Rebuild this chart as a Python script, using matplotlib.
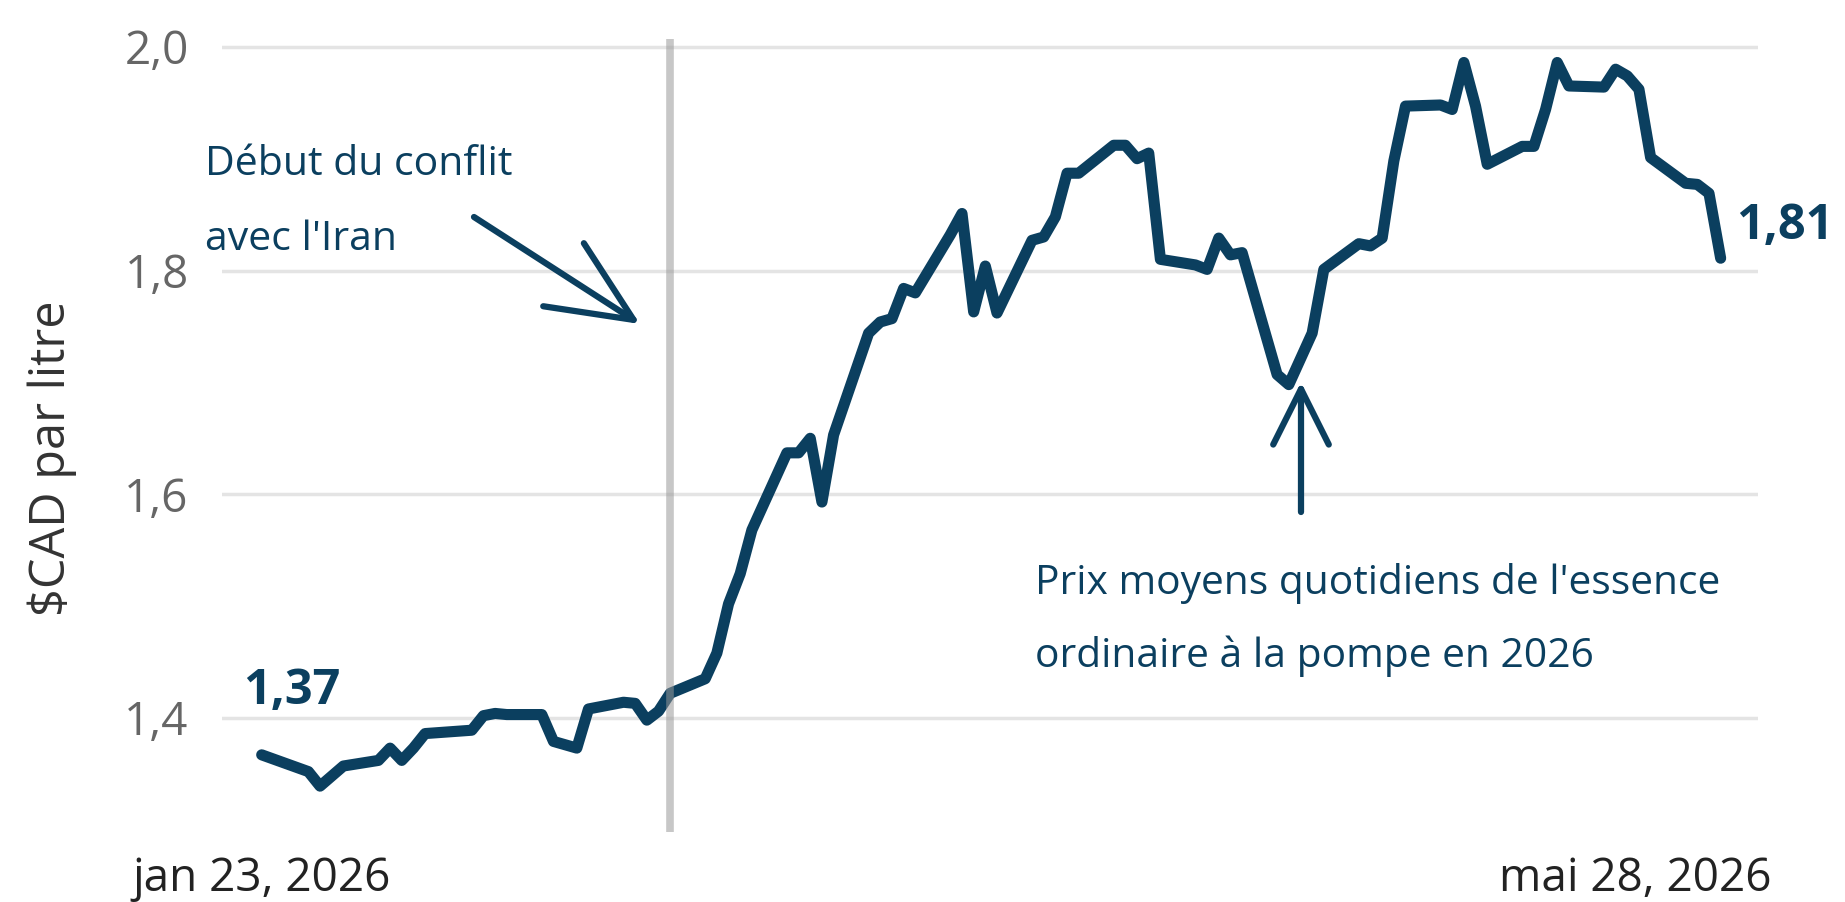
import pandas as pd
import matplotlib.pyplot as plt
from matplotlib.transforms import ScaledTranslation

# daily average regular gas price at the pump, $CAD per litre (2026)
dates = [
    "2026-01-23", "2026-01-27", "2026-01-28", "2026-01-30", "2026-02-02",
    "2026-02-03", "2026-02-04", "2026-02-05", "2026-02-06", "2026-02-10",
    "2026-02-11", "2026-02-12", "2026-02-13", "2026-02-16", "2026-02-17",
    "2026-02-19", "2026-02-20", "2026-02-23", "2026-02-24", "2026-02-25",
    "2026-02-26", "2026-02-27", "2026-03-02", "2026-03-03", "2026-03-04",
    "2026-03-05", "2026-03-06", "2026-03-09", "2026-03-10", "2026-03-11",
    "2026-03-12", "2026-03-13", "2026-03-16", "2026-03-17", "2026-03-18",
    "2026-03-19", "2026-03-20", "2026-03-23", "2026-03-24", "2026-03-25",
    "2026-03-26", "2026-03-27", "2026-03-30", "2026-03-31", "2026-04-01",
    "2026-04-02", "2026-04-03", "2026-04-06", "2026-04-07", "2026-04-08",
    "2026-04-09", "2026-04-10", "2026-04-13", "2026-04-14", "2026-04-15",
    "2026-04-16", "2026-04-17", "2026-04-20", "2026-04-21", "2026-04-23",
    "2026-04-24", "2026-04-27", "2026-04-28", "2026-04-29", "2026-04-30",
    "2026-05-01", "2026-05-04", "2026-05-05", "2026-05-06", "2026-05-07",
    "2026-05-08", "2026-05-11", "2026-05-12", "2026-05-13", "2026-05-14",
    "2026-05-15", "2026-05-18", "2026-05-19", "2026-05-20", "2026-05-21",
    "2026-05-22", "2026-05-25", "2026-05-26", "2026-05-27", "2026-05-28",
]
prices = [
    1.367, 1.352, 1.339, 1.357, 1.362,
    1.373, 1.362, 1.373, 1.386, 1.389,
    1.402, 1.404, 1.403, 1.403, 1.379,
    1.373, 1.408, 1.414, 1.413, 1.398,
    1.406, 1.422, 1.435, 1.458, 1.502,
    1.529, 1.568, 1.637, 1.637, 1.650,
    1.593, 1.653, 1.744, 1.754, 1.757,
    1.784, 1.780, 1.832, 1.851, 1.763,
    1.804, 1.762, 1.827, 1.830, 1.848,
    1.887, 1.887, 1.912, 1.912, 1.900,
    1.905, 1.810, 1.805, 1.801, 1.829,
    1.814, 1.816, 1.707, 1.698, 1.744,
    1.801, 1.824, 1.822, 1.829, 1.898,
    1.947, 1.948, 1.944, 1.986, 1.947,
    1.895, 1.911, 1.911, 1.944, 1.986,
    1.965, 1.964, 1.980, 1.974, 1.962,
    1.901, 1.878, 1.877, 1.869, 1.811,
]
conflict_date = "2026-02-27"
y_ticks = [1.4, 1.6, 1.8, 2.0]
y_tick_labels = ["1,4", "1,6", "1,8", "2,0"]
x_tick_labels = ["jan 23, 2026", "mai 28, 2026"]

W, H = 1845, 902
NAVY = "#0b3f5f"
plt.rcParams["font.family"] = ["Open Sans", "DejaVu Sans"]


def px(x, y):
    # reference pixel (top-left origin) -> figure fraction
    return x / W, 1 - y / H


df = pd.DataFrame({"date": pd.to_datetime(dates), "price": prices})
start, end = df["date"].iloc[0], df["date"].iloc[-1]

fig = plt.figure(figsize=(W / 100, H / 100), dpi=100)
ax = fig.add_axes([222 / W, 1 - 832 / H, (1758 - 222) / W, (832 - 39) / H])

ax.plot(df["date"], df["price"], color=NAVY, lw=8,
        solid_capstyle="round", solid_joinstyle="round", zorder=3)
ax.axvline(pd.Timestamp(conflict_date), color="#999999", alpha=0.55, lw=5.5, zorder=4)

ax.set_xlim(start - pd.Timedelta(days=3.4), start + pd.Timedelta(days=128.2))
ax.set_ylim(1.298, 2.007)
ax.set_yticks(y_ticks)
ax.set_yticklabels(y_tick_labels)
ax.grid(axis="y", color="#e4e4e4", lw=2.5)
ax.set_axisbelow(True)
for s in ax.spines.values():
    s.set_visible(False)
ax.tick_params(length=0)
ax.tick_params(axis="y", labelsize=33, labelcolor="#666666", pad=24)
ax.set_xticks([start, end])
ax.set_xticklabels(x_tick_labels)
ax.tick_params(axis="x", labelsize=33, labelcolor="#222222", pad=17)
last = ax.get_xticklabels()[-1]
last.set_transform(last.get_transform() + ScaledTranslation(-0.85, 0, fig.dpi_scale_trans))

fig.text(*px(52, 458), "\\$CAD par litre", rotation=90, ha="center", va="center",
         fontsize=35, color="#333333")

# end labels
fig.text(*px(243, 704), "1,37", fontsize=35, fontweight="bold", color=NAVY, va="baseline")
fig.text(*px(1736, 239), "1,81", fontsize=35, fontweight="bold", color=NAVY, va="baseline")

# annotations
fig.text(*px(205, 175), "Début du conflit", fontsize=29.5, color=NAVY, va="baseline")
fig.text(*px(205, 250), "avec l'Iran", fontsize=29.5, color=NAVY, va="baseline")
fig.text(*px(1035, 594), "Prix moyens quotidiens de l'essence", fontsize=29.3, color=NAVY, va="baseline")
fig.text(*px(1035, 667), "ordinaire à la pompe en 2026", fontsize=29.3, color=NAVY, va="baseline")

ax.annotate("", xy=(640, H - 324), xytext=(474, H - 217), xycoords="figure pixels",
            arrowprops=dict(arrowstyle="->,head_length=60,head_width=27", mutation_scale=1,
                            color=NAVY, lw=4.5, shrinkA=0, shrinkB=0))
ax.annotate("", xy=(1301, H - 382), xytext=(1301, H - 512), xycoords="figure pixels",
            arrowprops=dict(arrowstyle="->,head_length=40,head_width=20", mutation_scale=1,
                            color=NAVY, lw=4.5, shrinkA=0, shrinkB=0))

fig.savefig("out.png", dpi=100)
